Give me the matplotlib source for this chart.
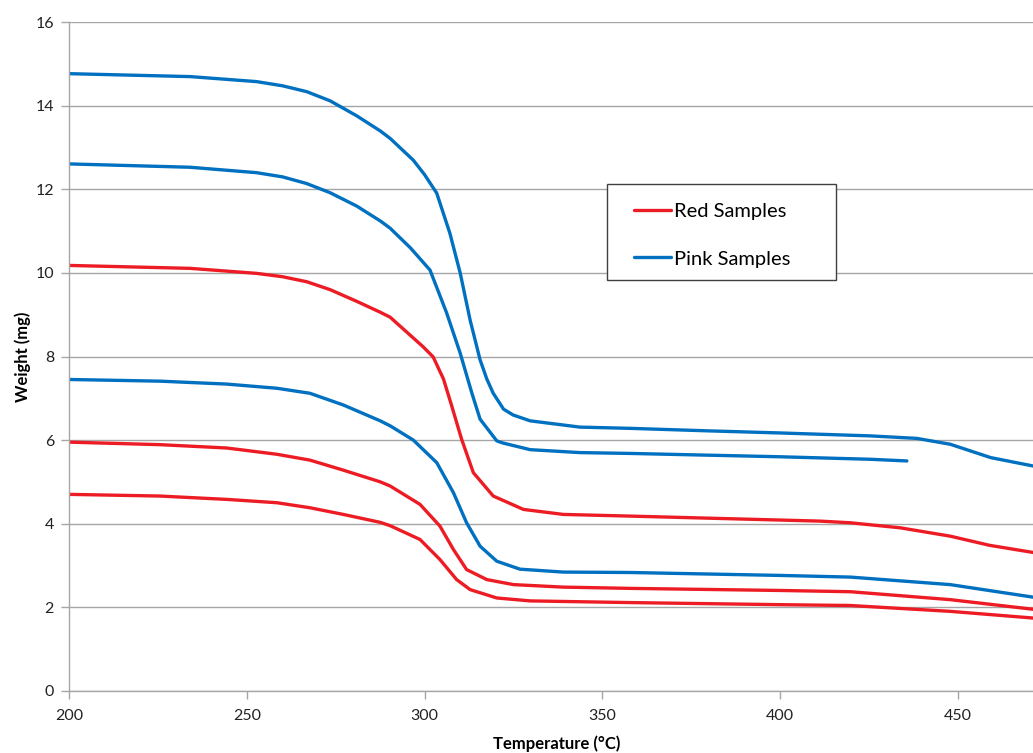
import matplotlib.pyplot as plt
from matplotlib.patches import Rectangle

# Values (temperature in C, weight in mg)
pink1_t = [200, 234, 252.7, 260, 266.8, 273.4, 280.9, 287.5, 290.3, 296.8, 300, 303.4, 307.1,
           310, 312.8, 315.6, 317.5, 319.3, 322.2, 324.9, 329.7, 343.7, 358, 380, 400,
           425.4, 438.5, 447.9, 459.3, 471.2]
pink1_w = [14.77, 14.70, 14.58, 14.48, 14.34, 14.12, 13.76, 13.40, 13.22, 12.70, 12.35, 11.91, 10.95,
           10.0, 8.87, 7.92, 7.46, 7.12, 6.74, 6.60, 6.46, 6.31, 6.28, 6.22, 6.17,
           6.10, 6.04, 5.90, 5.58, 5.38]

pink2_t = [200, 234, 252.7, 260, 266.8, 273.4, 280.9, 287.6, 290.3, 296, 301.5, 306.2, 310,
           313.3, 315.6, 320.3, 322, 329.7, 343.7, 357.8, 400, 425.4, 435.7]
pink2_w = [12.61, 12.53, 12.40, 12.30, 12.14, 11.92, 11.60, 11.24, 11.07, 10.60, 10.07, 9.04, 8.08,
           7.12, 6.50, 5.98, 5.93, 5.77, 5.70, 5.68, 5.60, 5.54, 5.50]

pink3_t = [200, 225.5, 244.3, 258.4, 267.7, 277.1, 287.5, 290.3, 296.8, 303.4, 308.1, 311.8,
           315.6, 320.3, 326.8, 339, 357.8, 400, 419.8, 447.9, 471.2]
pink3_w = [7.45, 7.41, 7.34, 7.24, 7.12, 6.84, 6.46, 6.34, 6.00, 5.46, 4.74, 4.02,
           3.46, 3.10, 2.91, 2.84, 2.83, 2.76, 2.72, 2.54, 2.24]

red1_t = [200, 234, 252.7, 260, 266.8, 273.4, 280.9, 287.5, 290.3, 299.6, 302.4, 305.3, 307.5,
          310.4, 313.7, 319.3, 327.8, 339, 357.8, 411.3, 419.8, 433.8, 447.9, 459, 471.2]
red1_w = [10.18, 10.11, 9.99, 9.91, 9.79, 9.60, 9.32, 9.06, 8.94, 8.23, 7.99, 7.46, 6.85,
          6.02, 5.22, 4.66, 4.34, 4.22, 4.18, 4.06, 4.02, 3.90, 3.70, 3.48, 3.31]

red2_t = [200, 225.5, 244.3, 258.4, 267.7, 277.1, 287.5, 290.3, 298.7, 304.3, 308.1, 311.8,
          317.5, 325, 339, 357.8, 400, 419.8, 447.9, 471.2]
red2_w = [5.95, 5.89, 5.81, 5.66, 5.52, 5.28, 5.00, 4.90, 4.46, 3.94, 3.38, 2.90,
          2.66, 2.54, 2.48, 2.45, 2.40, 2.37, 2.18, 1.95]

red3_t = [200, 225.5, 244.3, 258.4, 267.7, 277.1, 287.5, 290.3, 298.7, 304.3, 309, 312.8,
          320.3, 329.7, 357.8, 400, 419.8, 447.9, 471.2]
red3_w = [4.70, 4.66, 4.58, 4.50, 4.38, 4.22, 4.03, 3.95, 3.62, 3.14, 2.66, 2.42,
          2.22, 2.15, 2.11, 2.06, 2.04, 1.90, 1.74]

x_ticks = [200, 250, 300, 350, 400, 450]
y_ticks = [0, 2, 4, 6, 8, 10, 12, 14, 16]

RED = '#ED1C24'
BLUE = '#0070C0'

plt.rcParams['font.family'] = ['Lato', 'DejaVu Sans']

fig = plt.figure(figsize=(10.33, 7.53), dpi=100)
ax = fig.add_axes([0.0671, 0.0827, 0.9329, 0.8877])

lw = 2.4
kw = dict(linewidth=lw, solid_joinstyle='round', solid_capstyle='round')
ax.plot(red1_t, red1_w, color=RED, label='Red Samples', **kw)
ax.plot(pink1_t, pink1_w, color=BLUE, label='Pink Samples', **kw)
ax.plot(pink2_t, pink2_w, color=BLUE, **kw)
ax.plot(pink3_t, pink3_w, color=BLUE, **kw)
ax.plot(red2_t, red2_w, color=RED, **kw)
ax.plot(red3_t, red3_w, color=RED, **kw)

ax.set_xlim(200, 471.2)
ax.set_ylim(0, 16)
ax.set_xticks(x_ticks)
ax.set_yticks(y_ticks)
ax.yaxis.grid(True, color='#a6a6a6', linewidth=1)
ax.set_axisbelow(True)

for s in ['top', 'right']:
    ax.spines[s].set_visible(False)
for s in ['left', 'bottom']:
    ax.spines[s].set_color('#a6a6a6')
    ax.spines[s].set_linewidth(1)
ax.tick_params(direction='out', length=6, width=1, color='#a6a6a6',
               labelsize=11.5, labelcolor='#222222')
ax.tick_params(axis='x', pad=7)
ax.tick_params(axis='y', pad=5)

ax.set_xlabel('Temperature (°C)', fontsize=12, fontweight='bold')
ax.xaxis.set_label_coords(0.5058, -0.0675)
ax.set_ylabel('Weight (mg)', fontsize=12, fontweight='bold')
ax.yaxis.set_label_coords(-0.040, 0.5)

# legend: white box with dark border, entries placed inside
box = Rectangle((0.5876, 0.6282), 0.2217, 0.1275, transform=fig.transFigure,
                facecolor='white', edgecolor='#404040', linewidth=1, zorder=1.5)
fig.add_artist(box)
handles, labels = ax.get_legend_handles_labels()
leg = fig.legend(handles, labels, loc='upper left', bbox_to_anchor=(0.6137, 0.730),
                 fontsize=14.5, frameon=False, borderpad=0, borderaxespad=0,
                 handlelength=1.85, handletextpad=0.15, labelspacing=1.49)
leg.set_zorder(2)

fig.savefig('out.png', dpi=100)
